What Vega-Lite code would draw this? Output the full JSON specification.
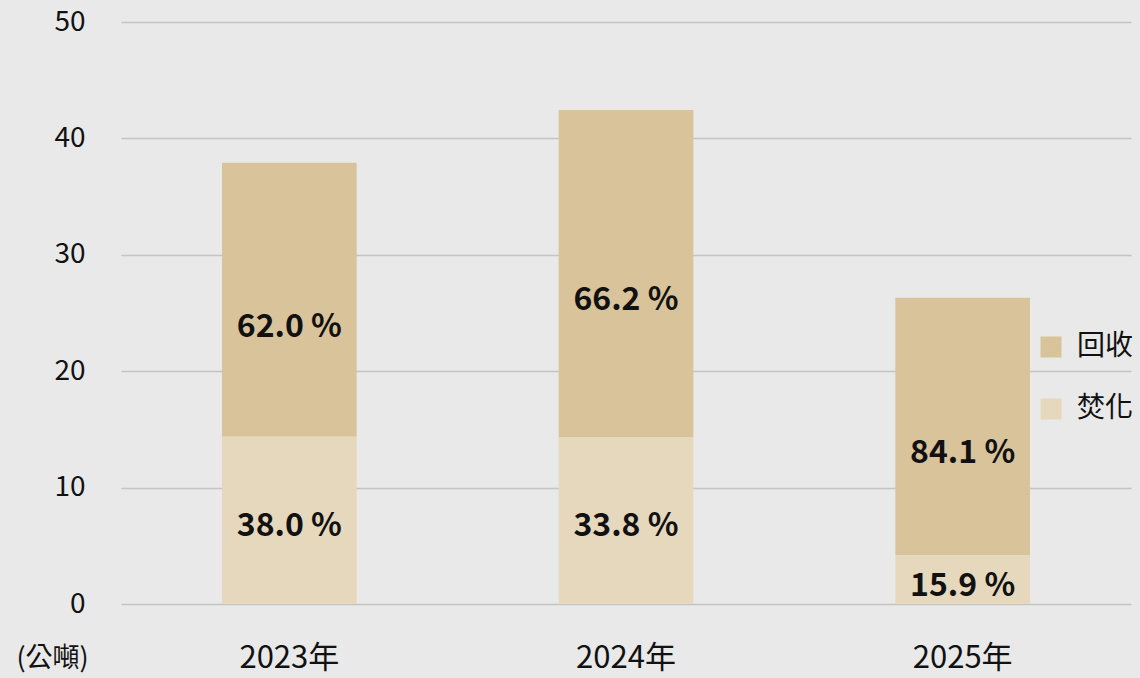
{
  "$schema": "https://vega.github.io/schema/vega-lite/v6.json",
  "width": 1010,
  "height": 582,
  "autosize": {"type": "none"},
  "padding": {"left": 121, "top": 22, "right": 9, "bottom": 74},
  "background": "#e8e9e8",
  "config": {
    "view": {"stroke": null},
    "font": "Noto Sans CJK TC"
  },
  "data": {
    "values": [
      {"year": "2023年", "type": "焚化", "value": 14.4, "label": "38.0 %", "ord": 1},
      {"year": "2023年", "type": "回收", "value": 23.5, "label": "62.0 %", "ord": 2},
      {"year": "2024年", "type": "焚化", "value": 14.35, "label": "33.8 %", "ord": 1},
      {"year": "2024年", "type": "回收", "value": 28.1, "label": "66.2 %", "ord": 2},
      {"year": "2025年", "type": "焚化", "value": 4.2, "label": "15.9 %", "ord": 1},
      {"year": "2025年", "type": "回收", "value": 22.1, "label": "84.1 %", "ord": 2}
    ]
  },
  "transform": [
    {"stack": "value", "groupby": ["year"], "sort": [{"field": "ord", "order": "ascending"}], "as": ["v0", "v1"]},
    {"calculate": "(datum.v0 + datum.v1) / 2", "as": "mid"}
  ],
  "encoding": {
    "x": {
      "field": "year",
      "type": "nominal",
      "sort": null,
      "scale": {"paddingInner": 0.6, "paddingOuter": 0.3},
      "axis": {
        "title": null,
        "labelAngle": 0,
        "labelFontSize": 31,
        "labelColor": "#111111",
        "labelBaseline": "top",
        "labelPadding": 39,
        "ticks": false,
        "domain": false
      }
    }
  },
  "layer": [
    {
      "mark": {"type": "bar"},
      "encoding": {
        "y": {
          "field": "v0",
          "type": "quantitative",
          "scale": {"domain": [0, 50]},
          "axis": {
            "values": [0, 10, 20, 30, 40, 50],
            "title": "(公噸)",
            "titleAngle": 0,
            "titleX": -69,
            "titleY": 636,
            "titleAlign": "center",
            "titleBaseline": "middle",
            "titleFontSize": 27,
            "titleFontWeight": "normal",
            "titleColor": "#111111",
            "labelFontSize": 28,
            "labelColor": "#111111",
            "labelPadding": 36,
            "ticks": false,
            "domain": false,
            "gridColor": "#c4c4c4",
            "gridWidth": 1.5
          }
        },
        "y2": {"field": "v1"},
        "color": {
          "field": "type",
          "type": "nominal",
          "scale": {"domain": ["回收", "焚化"], "range": ["#d9c39a", "#e6d8bc"]},
          "legend": {
            "title": null,
            "orient": "none",
            "legendX": 916,
            "legendY": 311,
            "symbolType": "square",
            "symbolSize": 440,
            "symbolStrokeWidth": 0,
            "labelFontSize": 28,
            "labelColor": "#111111",
            "rowPadding": 34,
            "labelOffset": 12
          }
        }
      }
    },
    {
      "transform": [{"filter": "datum.type === '回收'"}],
      "mark": {"type": "text", "fontSize": 32, "fontWeight": "bold", "color": "#111111", "baseline": "middle", "dy": 27},
      "encoding": {
        "y": {"field": "mid", "type": "quantitative"},
        "text": {"field": "label"}
      }
    },
    {
      "transform": [{"filter": "datum.type === '焚化'"}],
      "mark": {"type": "text", "fontSize": 32, "fontWeight": "bold", "color": "#111111", "baseline": "middle", "dy": 6},
      "encoding": {
        "y": {"field": "mid", "type": "quantitative"},
        "text": {"field": "label"}
      }
    }
  ]
}
